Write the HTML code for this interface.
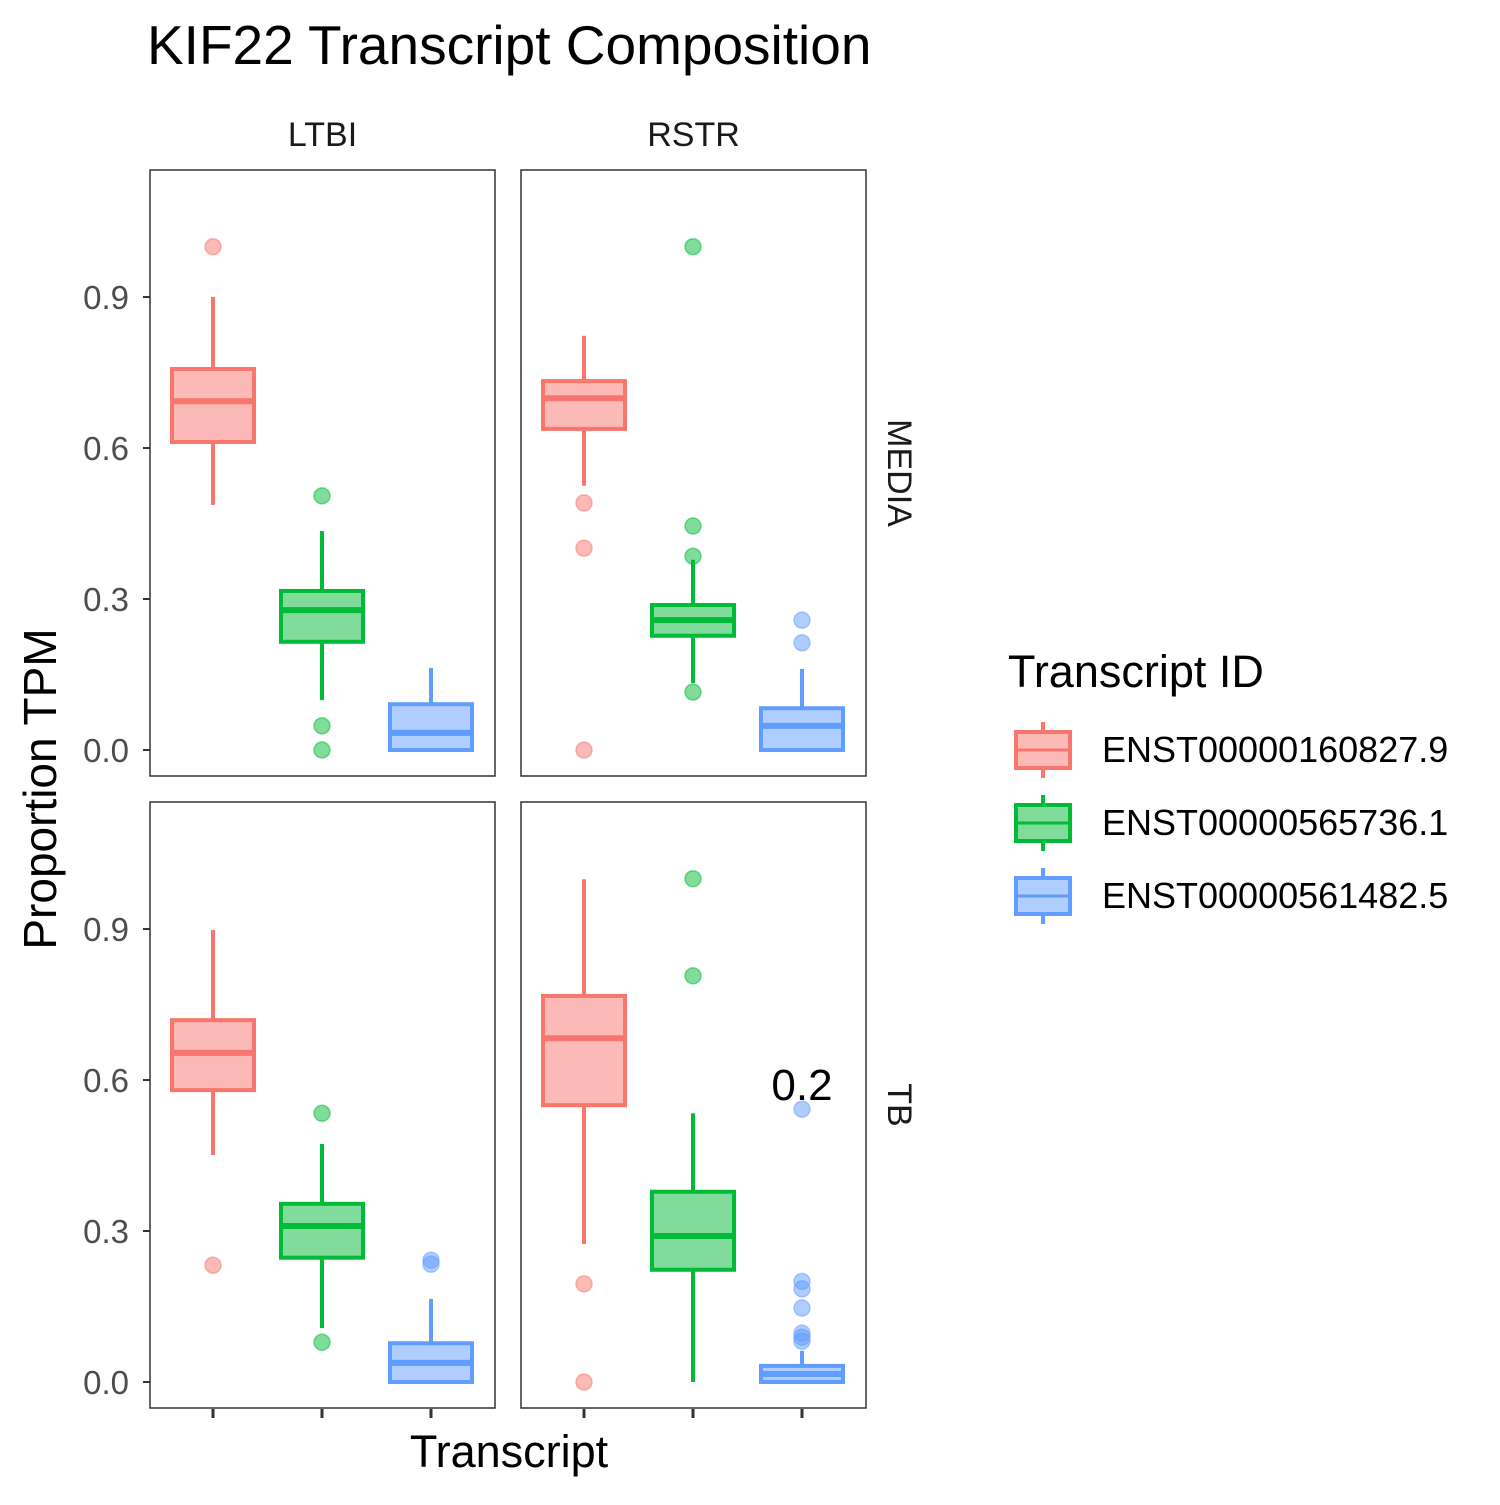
<!DOCTYPE html>
<html><head><meta charset="utf-8"><style>
body{margin:0;background:#fff}
svg text{font-family:"Liberation Sans",Arial,sans-serif}
</style></head><body>
<svg id="chart" width="1500" height="1500" viewBox="0 0 1500 1500" xmlns="http://www.w3.org/2000/svg">
<text x="147" y="64" font-size="55">KIF22 Transcript Composition</text>
<g id="panels"></g>
<text x="509" y="1467" font-size="45" text-anchor="middle">Transcript</text>
<text transform="translate(56,789) rotate(-90)" font-size="46" text-anchor="middle">Proportion TPM</text>
<text x="802" y="1100" font-size="44" text-anchor="middle">0.2</text>
<g id="legend">
<text x="1008" y="687" font-size="45">Transcript ID</text>
</g>
</svg>
<script>
const transcripts = ["ENST00000160827.9","ENST00000565736.1","ENST00000561482.5"];
const colors = ["#F8766D","#00BA38","#619CFF"];
const groups = ["LTBI","RSTR"];
const conditions = ["MEDIA","TB"];
const yTicks = [0,0.3,0.6,0.9];
const yTickLabels = ["0.0","0.3","0.6","0.9"];
// stats per panel [lowerWhisker,q1,median,q3,upperWhisker]
const mediaLtbi = [[0.487,0.612,0.693,0.757,0.9],[0.099,0.215,0.278,0.316,0.435],[0,0,0.034,0.091,0.163]];
const mediaLtbiOut = [[1.0],[0.505,0.048,0],[]];
const mediaRstr = [[0.525,0.638,0.699,0.733,0.823],[0.133,0.227,0.258,0.288,0.378],[0,0,0.048,0.083,0.161]];
const mediaRstrOut = [[0.491,0.401,0],[1.0,0.445,0.385,0.115],[0.258,0.213]];
const tbLtbi = [[0.451,0.58,0.654,0.719,0.898],[0.107,0.247,0.31,0.354,0.473],[0,0,0.038,0.077,0.165]];
const tbLtbiOut = [[0.232],[0.534,0.079],[0.242,0.234]];
const tbRstr = [[0.274,0.55,0.683,0.767,0.999],[0,0.223,0.29,0.378,0.534],[0,0,0.016,0.032,0.062]];
const tbRstrOut = [[0.195,0],[1.0,0.807],[0.542,0.2,0.185,0.147,0.097,0.089,0.081]];
const panelStats = [[mediaLtbi,mediaRstr],[tbLtbi,tbRstr]];
const panelOut = [[mediaLtbiOut,mediaRstrOut],[tbLtbiOut,tbRstrOut]];

const NS="http://www.w3.org/2000/svg";
const root=document.getElementById('panels');
function mk(tag,attrs,parent){const e=document.createElementNS(NS,tag);for(const k in attrs)e.setAttribute(k,attrs[k]);(parent||root).appendChild(e);return e;}
const panelX=[150,521], panelY=[170,802], pw=345, ph=606;
const zeroOff=580;
function yScale(r,v){return panelY[r]+zeroOff - v*503.3;}
function xScale(c,i){return panelX[c]+63+i*109;}
const bw=82;
for(let r=0;r<2;r++){for(let c=0;c<2;c++){
  const g=mk('g',{});
  
  
  mk('rect',{x:panelX[c],y:panelY[r],width:pw,height:ph,fill:'#fff',stroke:'#333','stroke-width':1.5},g);
  for(let i=0;i<3;i++){
    const s=panelStats[r][c][i], x=xScale(c,i), col=colors[i];
    const bg=mk('g',{},g);
    
    
    mk('line',{x1:x,x2:x,y1:yScale(r,s[3]),y2:yScale(r,s[4]),stroke:col,'stroke-width':4},bg);
    mk('line',{x1:x,x2:x,y1:yScale(r,s[1]),y2:yScale(r,s[0]),stroke:col,'stroke-width':4},bg);
    mk('rect',{x:x-bw/2,y:yScale(r,s[3]),width:bw,height:Math.max(0,yScale(r,s[1])-yScale(r,s[3])),fill:col,'fill-opacity':0.5,stroke:col,'stroke-width':4},bg);
    mk('line',{x1:x-bw/2,x2:x+bw/2,y1:yScale(r,s[2]),y2:yScale(r,s[2]),stroke:col,'stroke-width':6},bg);
    panelOut[r][c][i].forEach(v=>{
      const p=mk('circle',{cx:x,cy:yScale(r,v),r:8,fill:col,'fill-opacity':0.5,stroke:col,'stroke-opacity':0.5,'stroke-width':1.5},bg);
      
      
    });
  }
  if(c===0){yTicks.forEach((t,k)=>{const y=yScale(r,t);
    mk('line',{x1:143,x2:150,y1:y,y2:y,stroke:'#333','stroke-width':2},g);
    const tx=mk('text',{x:129,y:y+12,'font-size':33,'text-anchor':'end',fill:'#4d4d4d'},g);tx.textContent=yTickLabels[k];
    
    });}
  if(r===1){for(let i=0;i<3;i++){const x=xScale(c,i);mk('line',{x1:x,x2:x,y1:1409,y2:1418,stroke:'#333','stroke-width':3},g);}}
  if(r===0){const t=mk('text',{x:panelX[c]+pw/2,y:146,'font-size':34,'text-anchor':'middle',fill:'#1a1a1a'},g);t.textContent=groups[c];
    
    }
  if(c===1){const cy=panelY[r]+ph/2;const t=mk('text',{transform:`translate(888,${cy}) rotate(90)`,'font-size':34,'text-anchor':'middle',fill:'#1a1a1a'},g);t.textContent=conditions[r];
    
    }
}}
const lg=document.getElementById('legend');
transcripts.forEach((t,i)=>{const cy=750+i*73, col=colors[i], x=1043;
  const e=mk('g',{},lg);
  
  
  mk('line',{x1:x,x2:x,y1:cy-28,y2:cy-18,stroke:col,'stroke-width':4},e);
  mk('line',{x1:x,x2:x,y1:cy+18,y2:cy+28,stroke:col,'stroke-width':4},e);
  mk('rect',{x:1016,y:cy-18,width:54,height:36,fill:col,'fill-opacity':0.5,stroke:col,'stroke-width':4},e);
  mk('line',{x1:1016,x2:1070,y1:cy,y2:cy,stroke:col,'stroke-width':3},e);
  const tx=mk('text',{x:1102,y:cy+12,'font-size':36},e);tx.textContent=t;
});
</script>
</body></html>
